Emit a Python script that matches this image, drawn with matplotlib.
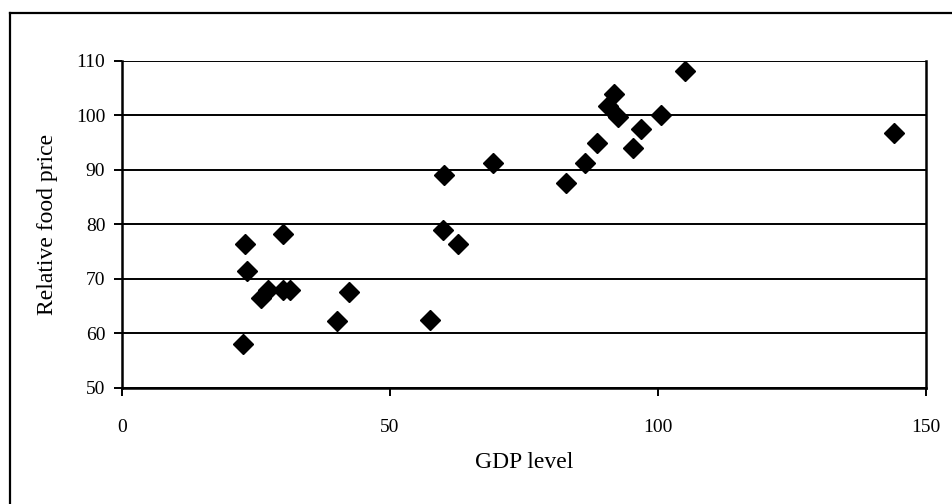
import matplotlib.pyplot as plt

# GDP level vs relative food price
gdp = [22.9, 23.4, 25.9, 27.3, 30.1, 30.0, 31.3, 22.5, 40.2, 42.4,
       57.5, 59.9, 62.6, 60.1, 69.3, 82.8, 86.4, 88.6, 95.4, 96.8,
       90.6, 91.8, 92.6, 100.5, 105.0, 144.1]
food_price = [76.5, 71.5, 66.6, 68.0, 78.3, 67.9, 67.9, 58.1, 62.3, 67.7,
              62.5, 79.0, 76.4, 89.1, 91.3, 87.7, 91.3, 95.0, 94.1, 97.6,
              101.7, 103.9, 99.8, 100.1, 108.2, 96.7]
x_ticks = [0, 50, 100, 150]
y_ticks = [50, 60, 70, 80, 90, 100, 110]

plt.rcParams['font.family'] = ['Liberation Serif', 'DejaVu Serif']

fig = plt.figure(figsize=(9.53, 5.04), dpi=100)
ax = fig.add_axes([0.128, 0.2302, 0.8437, 0.6488])

for y in y_ticks:
    ax.axhline(y, color='black', lw=1.4, zorder=1)

ax.plot(gdp, food_price, 'D', color='black', ms=10, zorder=3, ls='none')

ax.set_xlim(0, 150)
ax.set_ylim(50, 110)
ax.set_xticks(x_ticks)
ax.set_yticks(y_ticks)
ax.tick_params(axis='both', direction='out', length=6, width=1.4,
               labelsize=14, color='black')
ax.tick_params(axis='x', pad=16)
ax.tick_params(axis='y', pad=6)

for side in ['left', 'bottom', 'right']:
    ax.spines[side].set_linewidth(1.8)
    ax.spines[side].set_color('black')
ax.spines['top'].set_visible(False)

ax.set_xlabel('GDP level', fontsize=17, labelpad=12)
ax.set_ylabel('Relative food price', fontsize=17, labelpad=13)

# outer chart frame (only top and left edges are visible in the scan)
fig.add_artist(plt.Line2D([10 / 953, 1.0], [1 - 13 / 504, 1 - 13 / 504],
                          transform=fig.transFigure, color='black', lw=1.6))
fig.add_artist(plt.Line2D([10 / 953, 10 / 953], [0, 1 - 13 / 504],
                          transform=fig.transFigure, color='black', lw=1.6))

fig.savefig('out.png', dpi=100)
